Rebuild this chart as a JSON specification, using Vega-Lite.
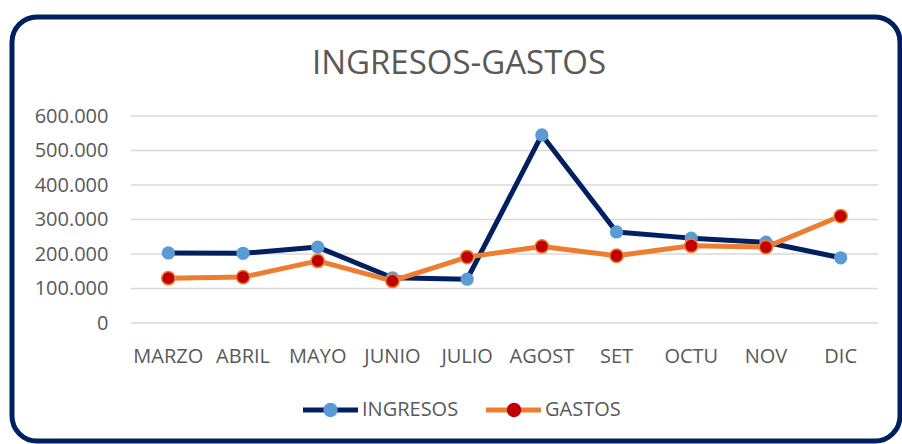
{
  "$schema": "https://vega.github.io/schema/vega-lite/v6.json",
  "width": 888,
  "height": 424,
  "autosize": {"type": "none"},
  "padding": {"left": 12, "top": 17, "right": 2, "bottom": 3},
  "background": "white",
  "title": {
    "text": "INGRESOS-GASTOS",
    "anchor": "middle",
    "frame": "group",
    "orient": "top",
    "baseline": "alphabetic",
    "offset": -90,
    "dx": 3,
    "font": "Open Sans",
    "fontSize": 33,
    "fontWeight": "normal",
    "color": "#595959"
  },
  "datasets": {
    "meses": [
      {"mes": "MARZO", "serie": "INGRESOS", "valor": 203000},
      {"mes": "ABRIL", "serie": "INGRESOS", "valor": 202000},
      {"mes": "MAYO", "serie": "INGRESOS", "valor": 220000},
      {"mes": "JUNIO", "serie": "INGRESOS", "valor": 131000},
      {"mes": "JULIO", "serie": "INGRESOS", "valor": 127000},
      {"mes": "AGOST", "serie": "INGRESOS", "valor": 545000},
      {"mes": "SET", "serie": "INGRESOS", "valor": 264000},
      {"mes": "OCTU", "serie": "INGRESOS", "valor": 246000},
      {"mes": "NOV", "serie": "INGRESOS", "valor": 234000},
      {"mes": "DIC", "serie": "INGRESOS", "valor": 189000},
      {"mes": "MARZO", "serie": "GASTOS", "valor": 130000},
      {"mes": "ABRIL", "serie": "GASTOS", "valor": 133000},
      {"mes": "MAYO", "serie": "GASTOS", "valor": 180000},
      {"mes": "JUNIO", "serie": "GASTOS", "valor": 122000},
      {"mes": "JULIO", "serie": "GASTOS", "valor": 191000},
      {"mes": "AGOST", "serie": "GASTOS", "valor": 222000},
      {"mes": "SET", "serie": "GASTOS", "valor": 195000},
      {"mes": "OCTU", "serie": "GASTOS", "valor": 224000},
      {"mes": "NOV", "serie": "GASTOS", "valor": 220000},
      {"mes": "DIC", "serie": "GASTOS", "valor": 310000}
    ],
    "grid": [
      {"v": 0}, {"v": 100000}, {"v": 200000}, {"v": 300000},
      {"v": 400000}, {"v": 500000}, {"v": 600000}
    ]
  },
  "layer": [
    {
      "data": {"name": "grid"},
      "mark": {"type": "rule", "color": "#D9D9D9", "strokeWidth": 1.3},
      "encoding": {
        "x": {"datum": "MARZO", "type": "nominal", "bandPosition": 0,
          "scale": {"type": "band", "domain": ["MARZO","ABRIL","MAYO","JUNIO","JULIO","AGOST","SET","OCTU","NOV","DIC"], "range": [119, 866], "paddingInner": 0, "paddingOuter": 0},
          "axis": {"title": null}},
        "x2": {"datum": "DIC", "bandPosition": 1},
        "y": {"field": "v", "type": "quantitative",
          "scale": {"domain": [0, 600000], "range": [306, 99], "nice": false, "zero": true},
          "axis": {"title": null, "format": ",d", "tickCount": 7}}
      }
    },
    {
      "data": {"name": "meses"},
      "transform": [{"filter": "datum.serie === 'INGRESOS'"}],
      "encoding": {
        "x": {"field": "mes", "type": "nominal", "sort": null,
          "scale": {"type": "band", "domain": ["MARZO","ABRIL","MAYO","JUNIO","JULIO","AGOST","SET","OCTU","NOV","DIC"], "range": [119, 866], "paddingInner": 0, "paddingOuter": 0},
          "axis": {"title": null}},
        "y": {"field": "valor", "type": "quantitative",
          "scale": {"domain": [0, 600000], "range": [306, 99], "nice": false, "zero": true},
          "axis": {"title": null, "format": ",d", "tickCount": 7}}
      },
      "layer": [
        {
          "mark": {"type": "line", "strokeWidth": 5, "strokeCap": "round", "strokeJoin": "round"},
          "encoding": {
            "stroke": {"field": "serie", "type": "nominal",
              "scale": {"domain": ["INGRESOS", "GASTOS"], "range": ["#002060", "#ED7D31"]},
              "legend": {"orient": "none", "legendX": 288.5, "legendY": 363, "direction": "horizontal", "title": null,
                "symbolType": "M-1,0H1", "symbolSize": 3025, "symbolStrokeWidth": 5, "padding": 0,
                "labelOffset": 1.5, "columnPadding": 17, "labelFont": "Open Sans", "labelFontSize": 20, "labelColor": "#595959"}}
          }
        },
        {
          "mark": {"type": "point", "filled": true, "size": 177, "opacity": 1, "strokeWidth": 0},
          "encoding": {
            "fill": {"field": "serie", "type": "nominal", "sort": "descending",
              "scale": {"range": ["#5B9BD5", "#C00000"]},
              "legend": {"orient": "none", "legendX": 288.5, "legendY": 363, "direction": "horizontal", "title": null,
                "symbolType": "M0.26,0A0.26,0.26,0,1,1,-0.26,0A0.26,0.26,0,1,1,0.26,0Z", "symbolSize": 3025, "symbolStrokeWidth": 5, "padding": 0,
                "labelOffset": 1.5, "columnPadding": 121.5, "labelExpr": "''", "labelFont": "Open Sans", "labelFontSize": 20,
                "encode": {"symbols": {"update": {
                  "stroke": [{"test": "datum.value === 'GASTOS'", "value": "#ED7D31"}, {"value": "transparent"}],
                  "strokeWidth": {"value": 1.5},
                  "opacity": {"value": 1}}}}}}
          }
        }
      ]
    },
    {
      "data": {"name": "meses"},
      "transform": [{"filter": "datum.serie === 'GASTOS'"}],
      "encoding": {
        "x": {"field": "mes", "type": "nominal", "sort": null,
          "scale": {"type": "band", "domain": ["MARZO","ABRIL","MAYO","JUNIO","JULIO","AGOST","SET","OCTU","NOV","DIC"], "range": [119, 866], "paddingInner": 0, "paddingOuter": 0},
          "axis": {"title": null}},
        "y": {"field": "valor", "type": "quantitative",
          "scale": {"domain": [0, 600000], "range": [306, 99], "nice": false, "zero": true},
          "axis": {"title": null, "format": ",d", "tickCount": 7}}
      },
      "layer": [
        {
          "mark": {"type": "line", "strokeWidth": 5, "strokeCap": "round", "strokeJoin": "round"},
          "encoding": {
            "stroke": {"field": "serie", "type": "nominal",
              "scale": {"domain": ["INGRESOS", "GASTOS"], "range": ["#002060", "#ED7D31"]},
              "legend": {"orient": "none", "legendX": 288.5, "legendY": 363, "direction": "horizontal", "title": null,
                "symbolType": "M-1,0H1", "symbolSize": 3025, "symbolStrokeWidth": 5, "padding": 0,
                "labelOffset": 1.5, "columnPadding": 17, "labelFont": "Open Sans", "labelFontSize": 20, "labelColor": "#595959"}}
          }
        },
        {
          "mark": {"type": "point", "filled": true, "size": 177, "opacity": 1, "stroke": "#ED7D31", "strokeWidth": 1.5},
          "encoding": {
            "fill": {"field": "serie", "type": "nominal", "sort": "descending",
              "scale": {"range": ["#5B9BD5", "#C00000"]},
              "legend": {"orient": "none", "legendX": 288.5, "legendY": 363, "direction": "horizontal", "title": null,
                "symbolType": "M0.26,0A0.26,0.26,0,1,1,-0.26,0A0.26,0.26,0,1,1,0.26,0Z", "symbolSize": 3025, "symbolStrokeWidth": 5, "padding": 0,
                "labelOffset": 1.5, "columnPadding": 121.5, "labelExpr": "''", "labelFont": "Open Sans", "labelFontSize": 20,
                "encode": {"symbols": {"update": {
                  "stroke": [{"test": "datum.value === 'GASTOS'", "value": "#ED7D31"}, {"value": "transparent"}],
                  "strokeWidth": {"value": 1.5},
                  "opacity": {"value": 1}}}}}}
          }
        }
      ]
    }
  ],
  "config": {
    "locale": {"number": {"decimal": ",", "thousands": ".", "grouping": [3], "currency": ["", " €"]}},
    "view": {"stroke": "#002060", "strokeWidth": 5, "cornerRadius": 25, "fill": "white"},
    "axisX": {"orient": "bottom", "offset": -95, "labelPadding": 0, "ticks": false, "tickSize": 0, "domain": false, "grid": false,
      "labelAngle": 0, "labelFont": "Open Sans", "labelFontSize": 20, "labelColor": "#595959"},
    "axisY": {"offset": -96, "labelPadding": 0, "ticks": false, "tickSize": 0, "domain": false, "grid": false,
      "labelFont": "Open Sans", "labelFontSize": 20, "labelColor": "#595959"}
  }
}
